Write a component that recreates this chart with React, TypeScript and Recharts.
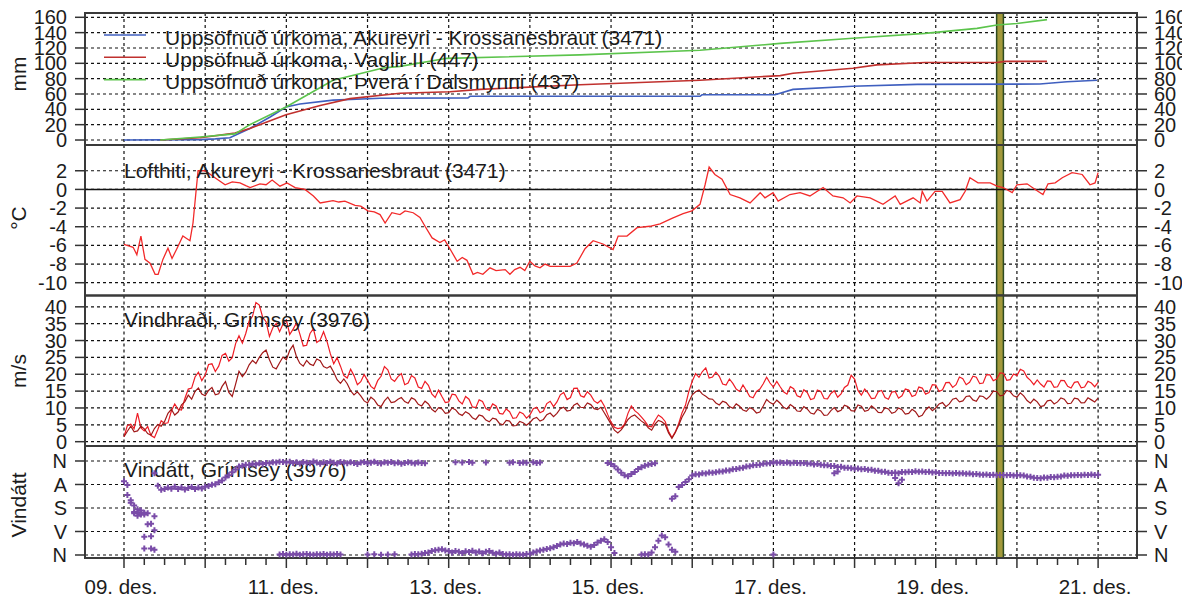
import React from 'react';
import {
  ComposedChart,
  Line,
  Scatter,
  XAxis,
  YAxis,
  CartesianGrid,
  ReferenceLine,
  ReferenceArea,
  Legend,
} from 'recharts';

const W = 1182;
const H = 596;
const FONT = '"Liberation Sans", Arial, Helvetica, sans-serif';
const TEXT = '#1c1c1c';
const GRID = '#111111';
const FRAME = '#3a3a3a';
const TICKC = '#333333';

// ---------- axes / labels ----------
const X_DOMAIN: [number, number] = [-11.53, 299.5]; // hours from 09. des. 00:00
const dayGridHours = [0, 24, 48, 72, 96, 120, 144, 168, 192, 216, 240, 264, 288];
const xTickHours = Array.from({ length: 49 }, (_, i) => i * 6);
const xTickLabels = ['09. des.', '11. des.', '13. des.', '15. des.', '17. des.', '19. des.', '21. des.'];
const axisTitles = ['mm', '°C', 'm/s', 'Vindátt'];
const panelTitles = ['Lofthiti, Akureyri - Krossanesbraut (3471)', 'Vindhraði, Grímsey (3976)', 'Vindátt, Grímsey (3976)'];
const precipNames = [
  'Uppsöfnuð úrkoma, Akureyri - Krossanesbraut (3471)',
  'Uppsöfnuð úrkoma, Vaglir II (447)',
  'Uppsöfnuð úrkoma, Þverá í Dalsmynni (437)',
];
const precipTicks = [0, 20, 40, 60, 80, 100, 120, 140, 160];
const tempTicks = [-10, -8, -6, -4, -2, 0, 2];
const windTicks = [0, 5, 10, 15, 20, 25, 30, 35, 40];
const dirTicks = [0, 90, 180, 270, 360];
const dirTickLabels = ['N', 'A', 'S', 'V', 'N'];
const highlightHours = [258.0, 260.0];

// ---------- data ----------
// cumulative precipitation [hour, mm]
const precipAkureyri: [number, number][] = [
  [0, 0], [22.5, 0.5], [27, 1.5], [31.3, 3], [37.2, 15], [43.2, 30], [47.9, 43], [52, 47], [61.8, 52],
  [75.7, 54.5], [101.7, 55], [102.3, 57], [170.3, 57], [170.9, 59], [192.5, 59], [197.8, 66], [215.3, 70],
  [234.5, 72.6], [270.8, 73], [278.8, 76], [287.7, 78],
];
const precipVaglir: [number, number][] = [
  [10.7, 0], [22.5, 3], [32.8, 9], [37.2, 15], [47.9, 33], [58, 45], [66.8, 54], [81.6, 61], [96.4, 63],
  [105.3, 66], [134.8, 72], [170.3, 78], [194, 84], [197.8, 87], [215.5, 93.5], [222.6, 98], [236.8, 101],
  [258.1, 101], [260.5, 102.5], [272.9, 102.5],
];
const precipThvera: [number, number][] = [
  [10.7, 0], [22.5, 4], [32.8, 8], [37.2, 20], [47.9, 43], [61.8, 78], [76.6, 94], [81.6, 96], [95.5, 106.5],
  [134.8, 111], [170.3, 117], [194, 126], [215.5, 132.6], [236.8, 139], [252.2, 145.6], [258.1, 150],
  [264, 152], [272.9, 157],
];

// air temperature [hour, °C]
const tempReadings: [number, number][] = [
  [0, -5.9], [2.7, -6.2], [3.8, -7.0], [5.0, -5.0], [6.2, -7.5], [7.7, -7.9], [9.2, -9.1], [10.1, -9.1],
  [11.5, -7.5], [13.0, -6.3], [14.2, -7.4], [15.7, -6.3], [17.4, -5.0], [19.5, -5.5], [20.4, -3.6],
  [21.3, -0.2], [21.9, 2.0], [24.0, 2.0], [26.9, 1.25], [29.9, 0.5], [32, 0.8], [34.3, 0.7], [36, 0.4],
  [37.3, 0.2], [40.2, 0.6], [42, 0.5], [43.8, 1.0], [46.1, 0.35], [48.2, 0.7], [50.6, 0.2], [53.5, 0],
  [56, -0.7], [58.0, -1.45], [61.8, -1.2], [63.5, -1.35], [65.3, -1.25], [68.3, -1.7], [70, -1.8],
  [72.1, -2.3], [74, -2.4], [75.7, -2.7], [77.2, -3.6], [79.2, -2.5], [81.6, -2.7], [83.1, -2.3],
  [85.5, -2.5], [87.5, -3.0], [89.0, -3.95], [91.1, -5.2], [93.4, -5.7], [94.8, -5.4], [96.1, -6.2],
  [98.5, -7.7], [100, -7.3], [101.4, -7.6], [103.2, -9.1], [104.5, -8.9], [106.1, -9.1], [108.2, -8.4],
  [110, -8.7], [112.7, -8.6], [114.1, -9.1], [115.5, -8.6], [117.1, -8.35], [118.5, -8.7], [120.0, -7.7],
  [121.5, -8.2], [123.0, -8.4], [124.5, -8.0], [126.0, -8.25], [129, -8.25], [131.9, -8.25], [133.9, -7.9],
  [136.3, -6.35], [138.7, -5.5], [141.6, -5.85], [144.6, -6.45], [146.1, -5.0], [148.7, -5.0], [151.7, -4.1],
  [155.5, -3.95], [158.5, -3.7], [162.0, -3.1], [165.3, -2.6], [167.9, -2.3], [170.3, -1.6], [171.8, 0.5],
  [173.0, 2.4], [174.7, 1.6], [176.8, 1.1], [179.2, -0.55], [182.1, -0.9], [185.1, -1.45], [188.1, -0.35],
  [189.5, -0.9], [191.9, -0.35], [193.4, -1.25], [196.9, -0.55], [199.9, -0.35], [202.8, -0.7], [206.7, 0.2],
  [209.6, -0.7], [212.6, -0.9], [214.7, -1.45], [216.7, -0.7], [220.6, -0.9], [224.4, -1.6], [228.0, -0.7],
  [229.5, -1.6], [233.3, -0.9], [235.4, -1.45], [236.0, -0.2], [237.4, -1.25], [239.8, -0.2], [241.9, -0.2],
  [244.2, -1.45], [247.2, -1.1], [248.7, -0.2], [250.1, 1.25], [252.5, 0.7], [256.1, 0.7], [258.1, 0.35],
  [259.9, 0.2], [262.6, -0.35], [264.0, 0.5], [267.0, 0.6], [269.4, 0], [271.7, -0.55], [273.2, 0.6],
  [275.3, 0.7], [277.4, 1.25], [280.3, 1.8], [283.3, 1.6], [285.6, 0.5], [287.1, 0.7], [288.0, 1.8],
];

// wind speed (m/s), hourly from 09. des. 00:00
const WIND_STEP_H = 1;
const windGust = [
  1.5, 4.8, 5.2, 3.9, 8.5, 4.1, 3.2, 4.5, 1.8, 1.2, 3.6, 6.2, 5.4, 5.6, 9.1, 11.2, 9.6, 9.4, 12.8, 15.6,
  15.9, 19.2, 20.6, 18.1, 19.8, 22.9, 23.1, 20.8, 22.4, 25.6, 26.2, 23.9, 24.9, 29.1, 31.4, 29.2, 32.1, 35.8, 37.2, 41.3,
  40.5, 36.9, 35.6, 31.2, 33.8, 35.1, 32.6, 34.9, 36.1, 31.8, 33.4, 35.2, 31.9, 28.4, 28.6, 32.1, 33.5, 29.4, 30.2, 32.6,
  29.8, 26.1, 23.1, 24.9, 22.4, 19.6, 18.9, 21.5, 19.6, 16.9, 17.8, 19.9, 18.2, 16.4, 15.6, 18.1, 19.4, 22.3, 21.3, 18.6,
  17.9, 19.3, 20.2, 16.9, 17.4, 19.6, 18.9, 16.2, 15.8, 17.9, 16.7, 14.2, 13.1, 15.3, 13.4, 11.6, 11.8, 14.1, 13.9, 12.1,
  11.2, 13.4, 12.6, 10.3, 10.1, 12.4, 11.9, 9.8, 9.3, 11.2, 10.6, 8.4, 8.2, 9.7, 8.9, 6.9, 7.1, 8.8, 8.3, 7.0,
  7.9, 9.8, 10.2, 8.6, 9.1, 11.3, 12.0, 10.4, 11.8, 13.9, 14.6, 12.5, 13.1, 15.8, 15.9, 13.6, 13.2, 14.8, 13.8, 12.1,
  11.4, 12.3, 10.6, 8.1, 5.8, 4.3, 3.9, 4.1, 5.2, 8.4, 10.6, 9.2, 8.4, 7.3, 6.1, 4.6, 4.4, 6.3, 7.9, 7.2,
  6.0, 3.1, 1.2, 2.9, 5.4, 8.6, 10.8, 14.9, 17.9, 20.2, 19.1, 20.8, 21.9, 18.9, 19.2, 20.6, 19.4, 17.1, 16.8, 18.6,
  17.3, 15.6, 14.9, 16.8, 15.2, 13.4, 13.0, 14.9, 15.6, 17.2, 19.1, 17.4, 16.2, 17.9, 16.3, 14.8, 14.1, 16.3, 15.7, 13.6,
  13.2, 15.4, 14.6, 12.5, 12.8, 15.3, 14.9, 12.8, 12.7, 14.3, 15.1, 13.2, 14.2, 16.1, 16.8, 19.7, 18.6, 15.2, 13.8, 15.6,
  14.4, 12.8, 12.9, 14.8, 15.2, 13.1, 12.6, 14.7, 14.9, 12.9, 13.6, 15.6, 15.3, 13.4, 13.8, 16.2, 15.9, 14.1, 14.6, 16.9,
  16.8, 14.9, 15.4, 17.5, 17.6, 16.1, 16.9, 19.2, 18.7, 16.9, 17.6, 19.4, 19.1, 17.2, 17.4, 19.9, 19.8, 18.1, 18.6, 20.4,
  20.3, 18.2, 18.4, 20.1, 19.6, 21.5, 21.0, 19.1, 18.2, 16.9, 18.3, 17.1, 16.2, 18.0, 17.9, 16.1, 16.3, 18.2, 18.1, 16.4,
  15.9, 17.6, 17.8, 16.0, 16.2, 17.9, 17.4, 16.3, 17.6,
];
const windMean = [
  1.5, 3.1, 4.6, 2.9, 3.2, 4.6, 3.8, 2.4, 1.9, 3.9, 5.1, 4.6, 6.0, 8.4, 9.6, 7.9, 8.8, 10.9, 11.9, 13.8,
  12.6, 14.9, 15.9, 14.1, 13.6, 15.2, 16.1, 13.9, 14.2, 16.4, 17.8, 14.6, 13.4, 17.1, 20.9, 19.3, 20.6, 22.8, 24.1, 23.2,
  25.0, 26.4, 27.2, 24.3, 22.1, 21.6, 23.4, 25.1, 24.3, 27.1, 28.6, 25.2, 23.2, 22.4, 24.1, 23.0, 22.6, 24.5, 24.0, 22.3,
  21.8, 22.4, 20.6, 18.4, 17.3, 18.6, 17.2, 15.1, 13.9, 14.8, 13.6, 12.1, 11.5, 13.2, 12.4, 10.9, 10.4, 12.1, 13.2, 11.6,
  11.8, 12.6, 13.1, 11.9, 11.4, 13.0, 12.5, 11.1, 10.6, 12.0, 11.2, 9.6, 8.8, 10.1, 9.7, 8.4, 8.6, 10.0, 9.5, 8.3,
  7.8, 8.9, 8.3, 7.1, 6.6, 7.9, 7.6, 6.4, 5.9, 7.0, 6.7, 5.4, 5.0, 6.3, 6.1, 4.7, 4.8, 6.0, 5.6, 4.9,
  5.7, 6.8, 7.2, 6.1, 6.6, 8.0, 8.5, 7.4, 8.4, 9.8, 10.2, 9.1, 9.3, 10.8, 11.4, 10.2, 10.1, 11.5, 11.0, 9.8,
  9.5, 10.2, 8.6, 6.9, 5.2, 3.4, 2.6, 3.5, 4.9, 6.6, 7.5, 7.9, 7.0, 6.1, 5.4, 4.1, 3.4, 5.2, 6.3, 5.9,
  5.1, 2.6, 1.0, 2.7, 4.9, 7.3, 9.1, 11.8, 13.9, 14.8, 15.3, 14.1, 13.5, 12.7, 12.6, 11.5, 10.9, 12.0, 11.6, 10.4,
  9.9, 11.2, 10.5, 9.4, 9.0, 10.1, 9.6, 8.5, 8.8, 10.6, 12.5, 11.6, 11.1, 12.3, 11.4, 10.2, 9.7, 11.0, 10.3, 9.1,
  9.0, 10.4, 9.7, 8.5, 8.2, 9.6, 9.1, 7.8, 7.9, 9.2, 10.1, 8.9, 9.3, 10.8, 10.4, 9.2, 9.1, 10.9, 10.5, 9.0,
  9.3, 10.6, 9.8, 8.7, 8.6, 10.1, 9.7, 8.4, 8.8, 10.0, 9.5, 8.2, 8.4, 9.6, 8.9, 7.4, 7.8, 9.4, 10.3, 9.2,
  10.0, 11.2, 11.6, 10.4, 11.2, 12.6, 12.9, 11.8, 12.1, 13.4, 13.6, 12.4, 12.0, 13.6, 13.4, 12.6, 13.5, 15.0, 14.9, 13.6,
  13.8, 15.2, 14.8, 13.6, 13.2, 14.5, 13.6, 12.2, 11.4, 12.6, 11.8, 10.4, 10.7, 12.1, 12.3, 11.2, 11.8, 13.0, 12.6, 11.3,
  11.4, 12.9, 12.7, 11.5, 11.6, 13.0, 12.4, 11.8, 12.9,
];

// wind direction (degrees), hourly runs: first value is at the given start hour
const dirEarlyStart = 0;
const dirEarly = [
  78, 92, 160, 200, 196, 205, 198, 242, 288, 212,
  95, 110, 107, 102, 106, 99, 107, 102, 109, 103,
  100, 107, 102, 105, 99, 96, 91, 89, 81, 75,
  63, 55, 43, 33, 21, 18, 14, 15, 11, 13,
  9, 12, 8, 9, 5, 6, 3, 4, 6, 3,
  8, 5, 10, 4, 7, 9, 2, 6, 11, 5,
  8, 3, 7, 10, 4, 6, 9, 5, 8, 12,
  6, 4, 9, 7, 3, 8, 10, 5, 7, 4,
  9, 6, 11, 8, 5, 7, 10, 6, 8, 9,
];
const dirTurnStart = 143;
const dirTurn = [8, 12, 20, 33, 45, 55, 58, 50, 42, 31, 24, 18, 14, 12, 9];
const dirShiftStart = 162;
const dirShift = [145, 135, 100, 92, 80, 70];
const dirLateStart = 168;
const dirLate = [
  56, 51, 52, 47, 48, 44, 45, 43, 40, 40, 36, 36, 32, 31, 28, 26, 21, 20, 16, 15,
  14, 11, 10, 9, 5, 7, 6, 8, 6, 9, 7, 8, 9, 8, 11, 10, 13, 12, 14, 16,
  16, 19, 19, 23, 22, 26, 26, 28, 30, 29, 32, 31, 34, 34, 37, 37, 41, 41, 45, 46,
  44, 47, 42, 43, 41, 42, 39, 41, 40, 42, 41, 44, 43, 46, 46, 47, 46, 48, 46, 48,
  47, 49, 48, 51, 50, 52, 53, 52, 54, 53, 55, 54, 54, 55, 54, 56, 55, 55, 56, 59,
  60, 64, 65, 66, 63, 64, 61, 62, 60, 59, 56, 57, 55, 55, 54, 55, 53, 54, 52, 54,
  53,
];
const dirNorthAStart = 46;
const dirNorthA = [358, 356, 359, 357, 358, 355, 359, 357, 356, 358, 359, 357, 358, 356, 359, 357, 358, 356, 358];
const dirNorthBStart = 85;
const dirNorthB = [
  358, 356, 357, 355, 352, 350, 345, 342, 340, 338, 343, 345,
  350, 345, 348, 352, 346, 349, 344, 350, 347, 353, 348, 345, 351, 355, 350, 356, 358, 357, 359, 357, 358, 359, 356, 355, 350,
  347, 343, 340, 337, 334, 330, 326, 320, 316, 318, 313, 315, 310, 316, 320, 325, 328, 322, 312, 305, 300, 310, 330, 352,
];
const dirNorthCStart = 153;
const dirNorthC = [358, 357, 358, 350, 330, 305, 285, 292, 320, 340, 348];
const dirScattered: [number, number][] = [
  [1, 130], [2, 150], [3, 170], [3, 195], [4, 210], [4, 185], [5, 200], [5, 190], [6, 290], [6, 335], [6, 205],
  [7, 200], [8, 240], [8, 335], [9, 265], [9, 340], [9, 47],
  [72, 358], [74, 357], [76, 359], [78, 358], [80, 357],
  [98, 5], [100, 6], [102, 4], [103, 7], [107, 6], [114, 7], [115, 5], [117, 8], [118, 6], [119, 7],
  [121, 5], [122, 8], [123, 6],
  [192, 358], [210, 47], [211, 40], [228, 65], [229, 85], [230, 72],
];

// ---------- build point tables ----------
const pairs = (arr: [number, number][]) => arr.map(([h, v]) => ({ h, v }));
const run = (start: number, vals: number[], step = 1) => vals.map((v, i) => ({ h: start + i * step, v }));

const akureyriPts = pairs(precipAkureyri);
const vaglirPts = pairs(precipVaglir);
const thveraPts = pairs(precipThvera);
const tempPts = pairs(tempReadings);
const gustPts = run(0, windGust, WIND_STEP_H);
const meanPts = run(0, windMean, WIND_STEP_H);
const dirPts = [
  ...run(dirEarlyStart, dirEarly),
  ...run(dirTurnStart, dirTurn),
  ...run(dirShiftStart, dirShift),
  ...run(dirLateStart, dirLate),
  ...run(dirNorthAStart, dirNorthA),
  ...run(dirNorthBStart, dirNorthB),
  ...run(dirNorthCStart, dirNorthC),
  ...pairs(dirScattered),
];

// ---------- panel layout ----------
const PANELS = [
  { top: 13, bottom: 145, domain: [-6.5, 165.6] as [number, number] },
  { top: 145, bottom: 295.5, domain: [-11.37, 4.76] as [number, number] },
  { top: 295.5, bottom: 446, domain: [-1.28, 43.36] as [number, number] },
  { top: 446, bottom: 558, domain: [-57.4, 371.5] as [number, number] },
];
const AXIS_TITLE_Y = [74, 218, 371, 505];
const TITLE_BASELINE = [177.5, 327, 477];
const X_AXIS_H = 38;

const tickStyle = { fill: TEXT, fontSize: 20, fontFamily: FONT };
const tickLineStyle = { stroke: TICKC, strokeWidth: 1.5 };

const makeLabel = (panel: number) => ({
  content: () => (
    <g>
      <text
        x={26}
        y={AXIS_TITLE_Y[panel]}
        transform={`rotate(-90 26 ${AXIS_TITLE_Y[panel]})`}
        textAnchor="middle"
        fontSize={21}
        fontFamily={FONT}
        fill={TEXT}
      >
        {axisTitles[panel]}
      </text>
      {panel > 0 && (
        <text x={124} y={TITLE_BASELINE[panel - 1]} fontSize={21} fontFamily={FONT} fill={TEXT}>
          {panelTitles[panel - 1]}
        </text>
      )}
    </g>
  ),
});

const PrecipLegend = (props: any) => {
  const payload: any[] = props.payload || [];
  return (
    <svg width={W} height={100} style={{ position: 'absolute', left: 0, top: 0, overflow: 'visible' }}>
      {payload.map((e, k) => {
        const i = Math.max(0, precipNames.indexOf(e.value));
        const ly = 35 + i * 22.3;
        return (
          <g key={k}>
            <line x1={104} x2={146} y1={ly} y2={ly} stroke={e.color} strokeWidth={1.6} />
            <text x={165} y={44.5 + i * 22} fontSize={21} fontFamily={FONT} fill={TEXT}>
              {e.value}
            </text>
          </g>
        );
      })}
    </svg>
  );
};

const DayTick = (props: any) => {
  const { x, payload } = props;
  const h = payload.value as number;
  const y0 = PANELS[3].bottom;
  const major = h % 24 === 0;
  const li = h % 48 === 0 ? h / 48 : -1;
  return (
    <g>
      <line x1={x} x2={x} y1={y0} y2={y0 + (major ? 10 : 7)} stroke={TICKC} strokeWidth={1.5} />
      {li >= 0 && (
        <text x={x - 3} y={594} textAnchor="middle" fontSize={20.5} fontFamily={FONT} fill={TEXT}>
          {xTickLabels[li]}
        </text>
      )}
    </g>
  );
};

const PlusMark = (props: any) => {
  const { cx, cy } = props;
  if (cx == null || cy == null) return null;
  const s = 3;
  return (
    <path
      d={`M${cx - s},${cy}H${cx + s}M${cx},${cy - s}V${cy + s}`}
      stroke="#7a4ca8"
      strokeWidth={2}
      fill="none"
    />
  );
};

function panelCommon(panel: number, ticks: number[], reversed = false, formatter?: (v: any) => string) {
  const d = PANELS[panel].domain;
  return [
    <YAxis
      key="yl"
      yAxisId="L"
      orientation="left"
      type="number"
      dataKey="v"
      width={85}
      domain={d}
      ticks={ticks}
      interval={0}
      reversed={reversed}
      allowDataOverflow
      axisLine={false}
      tickSize={10}
      tickMargin={8}
      tickLine={tickLineStyle}
      tick={tickStyle}
      tickFormatter={formatter}
      label={makeLabel(panel)}
    />,
    <YAxis
      key="yr"
      yAxisId="R"
      orientation="right"
      type="number"
      width={45}
      domain={d}
      ticks={ticks}
      interval={0}
      reversed={reversed}
      allowDataOverflow
      axisLine={false}
      tickSize={10}
      tickMargin={7}
      tickLine={tickLineStyle}
      tick={{ ...tickStyle, textAnchor: 'start' }}
      tickFormatter={formatter}
    />,
    <CartesianGrid
      key="grid"
      yAxisId="L"
      horizontalValues={ticks}
      verticalValues={dayGridHours}
      stroke={GRID}
      strokeWidth={1.2}
      strokeDasharray="3 3"
      fill="none"
    />,
  ];
}

function panelOverlays(panel: number) {
  const d = PANELS[panel].domain;
  return [
    <ReferenceArea
      key="hl"
      yAxisId="L"
      x1={highlightHours[0]}
      x2={highlightHours[1]}
      y1={d[0]}
      y2={d[1]}
      fill="#a3993b"
      fillOpacity={1}
      stroke="#2c4a20"
      strokeWidth={1.5}
      ifOverflow="visible"
    />,
    <ReferenceArea
      key="box"
      yAxisId="L"
      x1={X_DOMAIN[0]}
      x2={X_DOMAIN[1]}
      y1={d[0]}
      y2={d[1]}
      fill="none"
      fillOpacity={0}
      stroke={FRAME}
      strokeWidth={2}
      ifOverflow="visible"
    />,
  ];
}

const hiddenX = (
  <XAxis type="number" dataKey="h" domain={X_DOMAIN} allowDataOverflow hide />
);

const layer: React.CSSProperties = { position: 'absolute', left: 0, top: 0 };

export default function App() {
  return (
    <div style={{ position: 'absolute', left: 0, top: 0, width: W, height: H, background: '#ffffff', fontFamily: FONT }}>
      {/* Panel 1: precipitation */}
      <div style={layer}>
        <ComposedChart
          width={W}
          height={H}
          margin={{ top: PANELS[0].top, bottom: H - PANELS[0].bottom, left: 0, right: 0 }}
        >
          {hiddenX}
          {panelCommon(0, precipTicks)}
          <Line yAxisId="L" data={akureyriPts} dataKey="v" name={precipNames[0]} stroke="#3f5fbf" strokeWidth={1.6} dot={false} isAnimationActive={false} />
          <Line yAxisId="L" data={vaglirPts} dataKey="v" name={precipNames[1]} stroke="#c0312e" strokeWidth={1.6} dot={false} isAnimationActive={false} />
          <Line yAxisId="L" data={thveraPts} dataKey="v" name={precipNames[2]} stroke="#5cc44c" strokeWidth={1.6} dot={false} isAnimationActive={false} />
          {panelOverlays(0)}
          <Legend
            verticalAlign="middle"
            align="center"
            layout="horizontal"
            wrapperStyle={{ left: 0, top: 0, width: W, height: 0, overflow: 'visible' }}
            content={PrecipLegend}
          />
        </ComposedChart>
      </div>

      {/* Panel 2: temperature */}
      <div style={layer}>
        <ComposedChart
          width={W}
          height={H}
          margin={{ top: PANELS[1].top, bottom: H - PANELS[1].bottom, left: 0, right: 0 }}
        >
          {hiddenX}
          {panelCommon(1, tempTicks)}
          <ReferenceLine yAxisId="L" y={0} stroke="#111" strokeWidth={1.5} />
          <Line yAxisId="L" data={tempPts} dataKey="v" name="Lofthiti" stroke="#f22a2a" strokeWidth={1.3} dot={false} isAnimationActive={false} />
          {panelOverlays(1)}
        </ComposedChart>
      </div>

      {/* Panel 3: wind speed */}
      <div style={layer}>
        <ComposedChart
          width={W}
          height={H}
          margin={{ top: PANELS[2].top, bottom: H - PANELS[2].bottom, left: 0, right: 0 }}
        >
          {hiddenX}
          {panelCommon(2, windTicks)}
          <Line yAxisId="L" data={gustPts} dataKey="v" name="Vindhviða" stroke="#ee1c25" strokeWidth={1.2} dot={false} isAnimationActive={false} />
          <Line yAxisId="L" data={meanPts} dataKey="v" name="Meðalvindur" stroke="#a11818" strokeWidth={1.2} dot={false} isAnimationActive={false} />
          {panelOverlays(2)}
        </ComposedChart>
      </div>

      {/* Panel 4: wind direction */}
      <div style={layer}>
        <ComposedChart
          width={W}
          height={H}
          margin={{ top: PANELS[3].top, bottom: 0, left: 0, right: 0 }}
        >
          <XAxis
            type="number"
            dataKey="h"
            domain={X_DOMAIN}
            allowDataOverflow
            ticks={xTickHours}
            interval={0}
            height={X_AXIS_H}
            axisLine={false}
            tickLine={false}
            tick={DayTick}
          />
          {panelCommon(3, dirTicks, true, (v: any) => dirTickLabels[dirTicks.indexOf(Number(v))] ?? '')}
          <Scatter yAxisId="L" data={dirPts} dataKey="v" name="Vindátt" fill="#7a4ca8" shape={PlusMark} isAnimationActive={false} />
          {panelOverlays(3)}
        </ComposedChart>
      </div>
    </div>
  );
}
